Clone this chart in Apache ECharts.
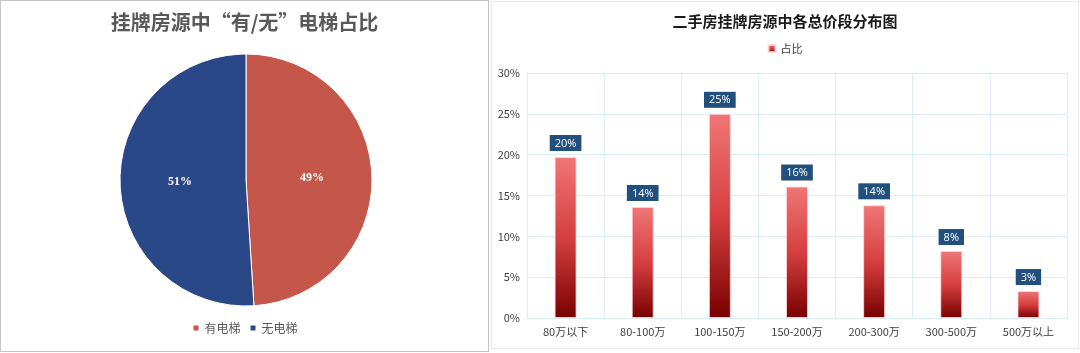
<!DOCTYPE html>
<html>
<head>
<meta charset="utf-8">
<script src="https://cdn.jsdelivr.net/npm/echarts@6/dist/echarts.min.js"></script>
<style>
    body { margin: 0; background: #fff; width: 1080px; height: 353px; position: relative; overflow: hidden; }
    #pie_echarts { position: absolute; left: 0; top: 0; width: 487px; height: 350px; border: 1px solid #c4c4c4; }
    #bar_echarts { position: absolute; left: 491px; top: 1px; width: 586px; height: 346px; border: 1px solid #e8e8e8; }
</style>
</head>
<body>
<div id="pie_echarts"></div>
<div id="bar_echarts"></div>
<script>
const pieNames = ['有电梯', '无电梯'];
const pieValues = [49, 51];
const pieColors = ['#c5564a', '#2a4788'];

const priceRanges = ['80万以下', '80-100万', '100-150万', '150-200万', '200-300万', '300-500万', '500万以上'];
const priceShares = [19.7, 13.6, 25.0, 16.1, 13.8, 8.2, 3.3];
const yTicks = [0, 5, 10, 15, 20, 25, 30];

const cjk = '"Noto Sans CJK SC", "Microsoft YaHei", sans-serif';

const pie_chart = echarts.init(document.getElementById('pie_echarts'));
const bar_chart = echarts.init(document.getElementById('bar_echarts'));

const pieData = [];
for (let i = 0; i < pieNames.length; i++) {
    pieData.push({name: pieNames[i], value: pieValues[i], itemStyle: {color: pieColors[i]}});
}

// 电梯占比饼图
pie_chart.setOption({
    animation: false,
    title: {
        text: '挂牌房源中“有/无”电梯占比',
        left: 'center',
        top: 6,
        textStyle: {fontFamily: cjk, fontSize: 20, fontWeight: 'bold', color: '#595959'}
    },
    legend: {
        bottom: 12,
        left: 'center',
        icon: 'rect',
        itemWidth: 7,
        itemHeight: 7,
        itemGap: 8,
        textStyle: {fontFamily: cjk, fontSize: 12, color: '#595959'},
        data: pieNames
    },
    series: [{
        type: 'pie',
        center: [245, 179],
        radius: [0, 126],
        startAngle: 90,
        clockwise: true,
        itemStyle: {borderColor: '#fff', borderWidth: 1},
        label: {
            position: 'inner',
            color: '#fff',
            fontFamily: '"Liberation Serif", "DejaVu Serif", serif',
            fontWeight: 'bold',
            fontSize: 12,
            formatter: function (p) { return Math.round(p.percent) + '%'; }
        },
        labelLine: {show: false},
        data: pieData
    }]
});

// 总价段分布柱状图
bar_chart.setOption({
    animation: false,
    title: {
        text: '二手房挂牌房源中各总价段分布图',
        left: 'center',
        top: 7,
        textStyle: {fontFamily: cjk, fontSize: 15, fontWeight: 'bold', color: '#1a1a1a'}
    },
    legend: {
        top: 36,
        left: 'center',
        icon: 'rect',
        itemWidth: 7,
        itemHeight: 7,
        itemGap: 4,
        textStyle: {fontFamily: cjk, fontSize: 11, color: '#404040'},
        data: ['占比']
    },
    grid: {left: 35, right: 11, top: 71, bottom: 30},
    xAxis: {
        type: 'category',
        data: priceRanges,
        axisLine: {lineStyle: {color: '#d9edf5'}},
        axisTick: {show: false},
        splitLine: {show: true, lineStyle: {color: '#d9edf5'}},
        axisLabel: {fontFamily: cjk, fontSize: 11, color: '#404040', margin: 8, interval: 0}
    },
    yAxis: {
        type: 'value',
        min: yTicks[0],
        max: yTicks[yTicks.length - 1],
        interval: 5,
        axisLine: {show: true, lineStyle: {color: '#d9edf5'}},
        axisTick: {show: false},
        splitLine: {lineStyle: {color: '#d9edf5'}},
        axisLabel: {fontFamily: cjk, fontSize: 11, color: '#404040', margin: 7, formatter: '{value}%'}
    },
    series: [{
        name: '占比',
        type: 'bar',
        barWidth: 22,
        data: priceShares,
        itemStyle: {
            color: new echarts.graphic.LinearGradient(0, 0, 0, 1, [
                {offset: 0, color: '#f07676'},
                {offset: 0.5, color: '#d63f3f'},
                {offset: 1, color: '#780000'}
            ]),
            borderColor: 'rgba(255,220,220,0.8)',
            borderWidth: 1
        },
        label: {
            show: true,
            position: 'top',
            distance: 6,
            backgroundColor: '#22507d',
            padding: [3, 5, 2, 5],
            color: '#fff',
            fontFamily: '"Open Sans", "DejaVu Sans", sans-serif',
            fontSize: 11,
            formatter: function (p) { return Math.round(p.value) + '%'; }
        }
    }]
});
</script>
</body>
</html>
